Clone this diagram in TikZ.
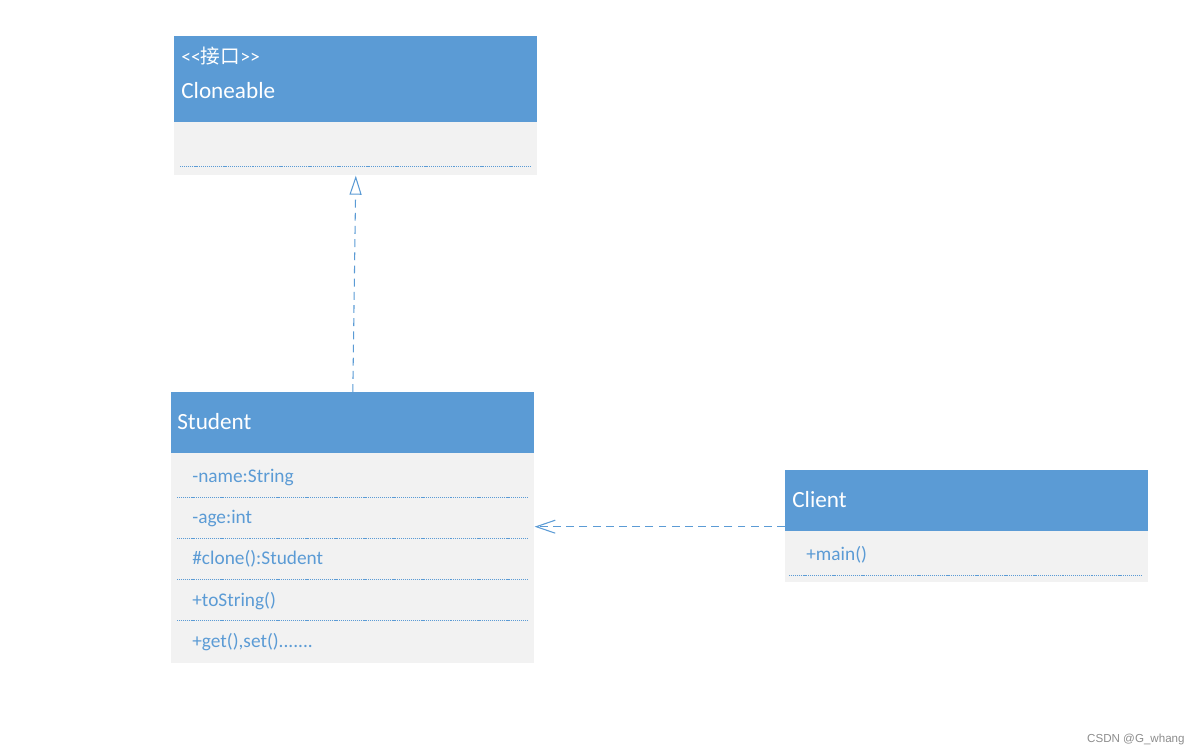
\documentclass[tikz,border=0pt]{standalone}
\usepackage{fontspec}
\setmainfont{Carlito}
\newfontfamily\cjk{Noto Sans CJK SC}
\newfontfamily\markfont{Liberation Sans}
\usepackage{xcolor}
\usetikzlibrary{positioning,calc,arrows.meta}

\definecolor{umlblue}{HTML}{5B9BD5}
\definecolor{umlgray}{HTML}{F2F2F2}

\begin{document}
\begin{tikzpicture}[
x=0.02cm, y=-0.02cm,
head/.style={
fill=umlblue,
draw=none,
anchor=north west,
minimum width=7.26cm,
inner sep=0pt
},
body/.style={
fill=umlgray,
draw=none,
anchor=north west,
minimum width=7.26cm,
inner sep=0pt
},
title/.style={
anchor=base west,
inner sep=0pt,
text=white,
font=\fontsize{13.2}{15}\selectfont
},
member/.style={
anchor=base west,
inner sep=0pt,
text=umlblue,
font=\fontsize{11}{13}\selectfont
},
sep/.style={
umlblue,
line width=0.4pt,
dash pattern=on 0.6pt off 0.5pt
},
implements/.style={
umlblue,
line width=0.6pt,
dash pattern=on 4.5pt off 3pt,
-{Triangle[open,length=0.38cm,width=0.24cm,fill=white]}
},
uses/.style={
umlblue,
line width=0.6pt,
dash pattern=on 4.5pt off 3pt,
-{Straight Barb[length=0.38cm,width=0.26cm]}
}
]

\useasboundingbox (0,0) rectangle (1201,754);

% Cloneable
\node[head, minimum height=1.72cm] (cloneableHead) at (174,36) {};
\node[body, minimum height=1.06cm] (cloneableBody) at (174,122) {};
\node[title, font=\fontsize{11.2}{13}\selectfont] (stereo) at (181,63) {<{}<{\cjk 接口}>{}>};
\node[title] (cloneableName) at (181,98) {Cloneable};
\draw[sep] (180,166) -- (531,166);

% Student
\node[head, minimum height=1.22cm] (studentHead) at (171,392) {};
\node[body, minimum height=4.2cm] (studentBody) at (171,453) {};
\node[title] (studentName) at (177,429) {Student};

\node[member] (name) at (192,482) {-name:String};
\node[member] (age) at (192,523) {-age:int};
\node[member] (clone) at (192,564) {\#clone():Student};
\node[member] (toString) at (192,606) {+toString()};
\node[member] (getSet) at (192,647) {+get(),set().{}.{}.{}.{}.{}.{}.};

\foreach \y in {497,538,579,620}
  \draw[sep] (177,\y) -- (528,\y);

% Client
\node[head, minimum height=1.22cm] (clientHead) at (785,470) {};
\node[body, minimum height=1.02cm] (clientBody) at (785,531) {};
\node[title] (clientName) at (792,507) {Client};
\node[member] (main) at (806,560) {+main()};
\draw[sep] (789,575) -- (1142,575);

% relations
\draw[implements] (studentHead.north) -- (cloneableBody.south);

\coordinate (usesStart) at ($(clientHead.south west)+(0,-5)$);
\draw[uses] (usesStart) -- (usesStart -| studentBody.east);

% watermark
\node[anchor=base east, inner sep=0pt, text=black!45, font=\markfont\fontsize{6.6}{8}\selectfont] (mark) at (1185,742) {CSDN @G\_whang};

\end{tikzpicture}
\end{document}
